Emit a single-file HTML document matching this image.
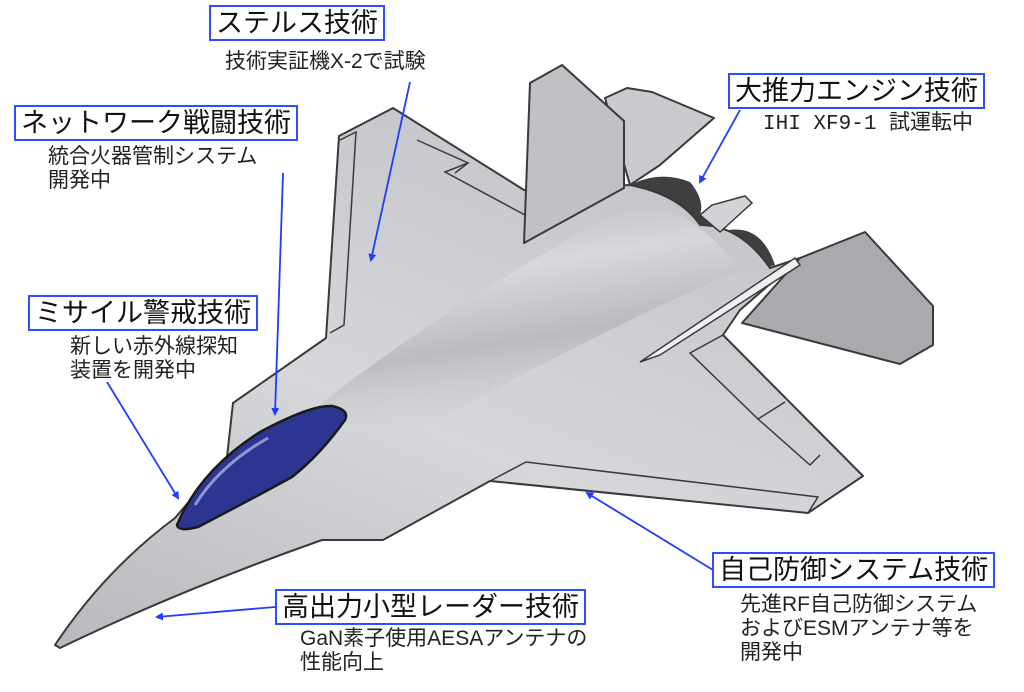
<!DOCTYPE html>
<html><head><meta charset="utf-8"><style>
html,body{margin:0;padding:0;background:#fff;}
body{width:1024px;height:692px;overflow:hidden;position:relative;font-family:"Liberation Sans","Noto Sans CJK JP",sans-serif;}
.box{position:absolute;border:2px solid #2f4dff;background:#fff;font-size:27px;line-height:32px;padding:0 5px;color:#111;white-space:nowrap;}
.sub{position:absolute;font-size:21px;line-height:24px;color:#222;white-space:nowrap;font-family:"Liberation Sans Narrow","Liberation Sans","Noto Sans CJK JP",sans-serif;}
svg{position:absolute;left:0;top:0;}
</style></head><body>
<svg width="1024" height="692" viewBox="0 0 1024 692">
<defs>
<linearGradient id="bd" x1="0" y1="1" x2="0.6" y2="0">
<stop offset="0" stop-color="#b8b9bc"/><stop offset="0.5" stop-color="#d6d7da"/><stop offset="1" stop-color="#c4c5c8"/></linearGradient>
<linearGradient id="fus" x1="0" y1="0" x2="0.3" y2="1">
<stop offset="0" stop-color="#9d9ea2"/><stop offset="0.4" stop-color="#e2e3e5"/><stop offset="0.7" stop-color="#a9aaae"/><stop offset="1" stop-color="#c8c9cc" stop-opacity="0"/></linearGradient>
<marker id="ar" markerWidth="8" markerHeight="8" refX="6" refY="4" orient="auto" markerUnits="userSpaceOnUse"><path d="M0,0 L8,4 L0,8 z" fill="#1f3cff"/></marker>
</defs>
<g stroke="#3a3a3c" stroke-width="2" stroke-linejoin="round">
<polygon points="605,98 627,88 652,92 714,118 660,165 630,185" fill="#c9cacd"/>
<path d="M630,185 Q660,170 690,182 Q705,200 700,215 L720,232 Q760,220 775,265 L740,275 L640,210 Z" fill="#3f3f42" stroke="none"/>
<polygon points="800,258 865,232 933,306 933,345 900,364 742,323" fill="#a9aaae"/>
<path d="M55,645 Q105,570 175,518 L227,457 L233,403 L326,338 L339,136 L393,108 L524,190 L630,185 Q680,195 700,225 Q740,225 770,268 L800,258 L740,310 L723,335 L863,476 L808,513 L490,481 L383,540 L322,540 Q180,590 60,648 Z" fill="url(#bd)"/>
</g>
<path d="M300,420 Q450,300 640,200 Q700,215 740,270 Q600,330 420,430 Z" fill="url(#fus)" opacity="0.55"/>
<g stroke="#3a3a3c" stroke-width="1.5" fill="none">
<polyline points="340,140 356,132 344,325 330,333"/>
<polyline points="417,140 468,163 445,172 525,215"/>
<line x1="468" y1="163" x2="455" y2="173"/>
<polyline points="723,335 690,353 758,419 785,402"/>
<polyline points="758,419 810,465 820,455"/>
<polyline points="490,481 526,462 818,497 808,513"/>
</g>
<polygon points="640,362 795,258 800,265 660,355" fill="#f0f0f2" stroke="#3a3a3c" stroke-width="1.5"/>
<polygon points="700,215 712,205 745,196 752,203 720,232" fill="#d2d3d6" stroke="#3a3a3c" stroke-width="1.5"/>
<polygon points="530,83 562,65 624,121 624,188 524,243" fill="#c0c1c4" stroke="#3a3a3c" stroke-width="2" stroke-linejoin="round"/>
<path d="M177,525 Q200,470 260,432 Q310,405 332,406 Q350,410 345,420 Q320,455 292,477 Q250,500 198,527 Q178,532 177,525 Z" fill="#2c3591" stroke="#1a1a1a" stroke-width="2.5"/>
<path d="M195,505 Q220,465 268,438" stroke="#a9afe0" stroke-width="3" fill="none" opacity="0.8"/>
<g stroke="#1f3cff" stroke-width="1.8" fill="none" marker-end="url(#ar)">
<line x1="410" y1="82" x2="371" y2="260"/>
<line x1="283" y1="173" x2="275" y2="414"/>
<line x1="107" y1="382" x2="178" y2="498"/>
<line x1="740" y1="110" x2="700" y2="182"/>
<line x1="713" y1="570" x2="587" y2="493"/>
<line x1="275" y1="607" x2="157" y2="617"/>
</g>
</svg>
<div class="box" style="left:209px;top:5px;">ステルス技術</div>
<div class="sub" style="left:225px;top:50px;">技術実証機X-2で試験</div>
<div class="box" style="left:14px;top:105px;">ネットワーク戦闘技術</div>
<div class="sub" style="left:48px;top:145px;">統合火器管制システム<br>開発中</div>
<div class="box" style="left:28px;top:295px;">ミサイル警戒技術</div>
<div class="sub" style="left:70px;top:335px;">新しい赤外線探知<br>装置を開発中</div>
<div class="box" style="left:728px;top:73px;">大推力エンジン技術</div>
<div class="sub" style="left:763px;top:113px;font-family:'Liberation Mono','Noto Sans CJK JP',monospace;">IHI XF9-1 試運転中</div>
<div class="box" style="left:712px;top:552px;">自己防御システム技術</div>
<div class="sub" style="left:740px;top:593px;">先進RF自己防御システム<br>およびESMアンテナ等を<br>開発中</div>
<div class="box" style="left:275px;top:589px;">高出力小型レーダー技術</div>
<div class="sub" style="left:300px;top:627px;">GaN素子使用AESAアンテナの<br>性能向上</div>
</body></html>
